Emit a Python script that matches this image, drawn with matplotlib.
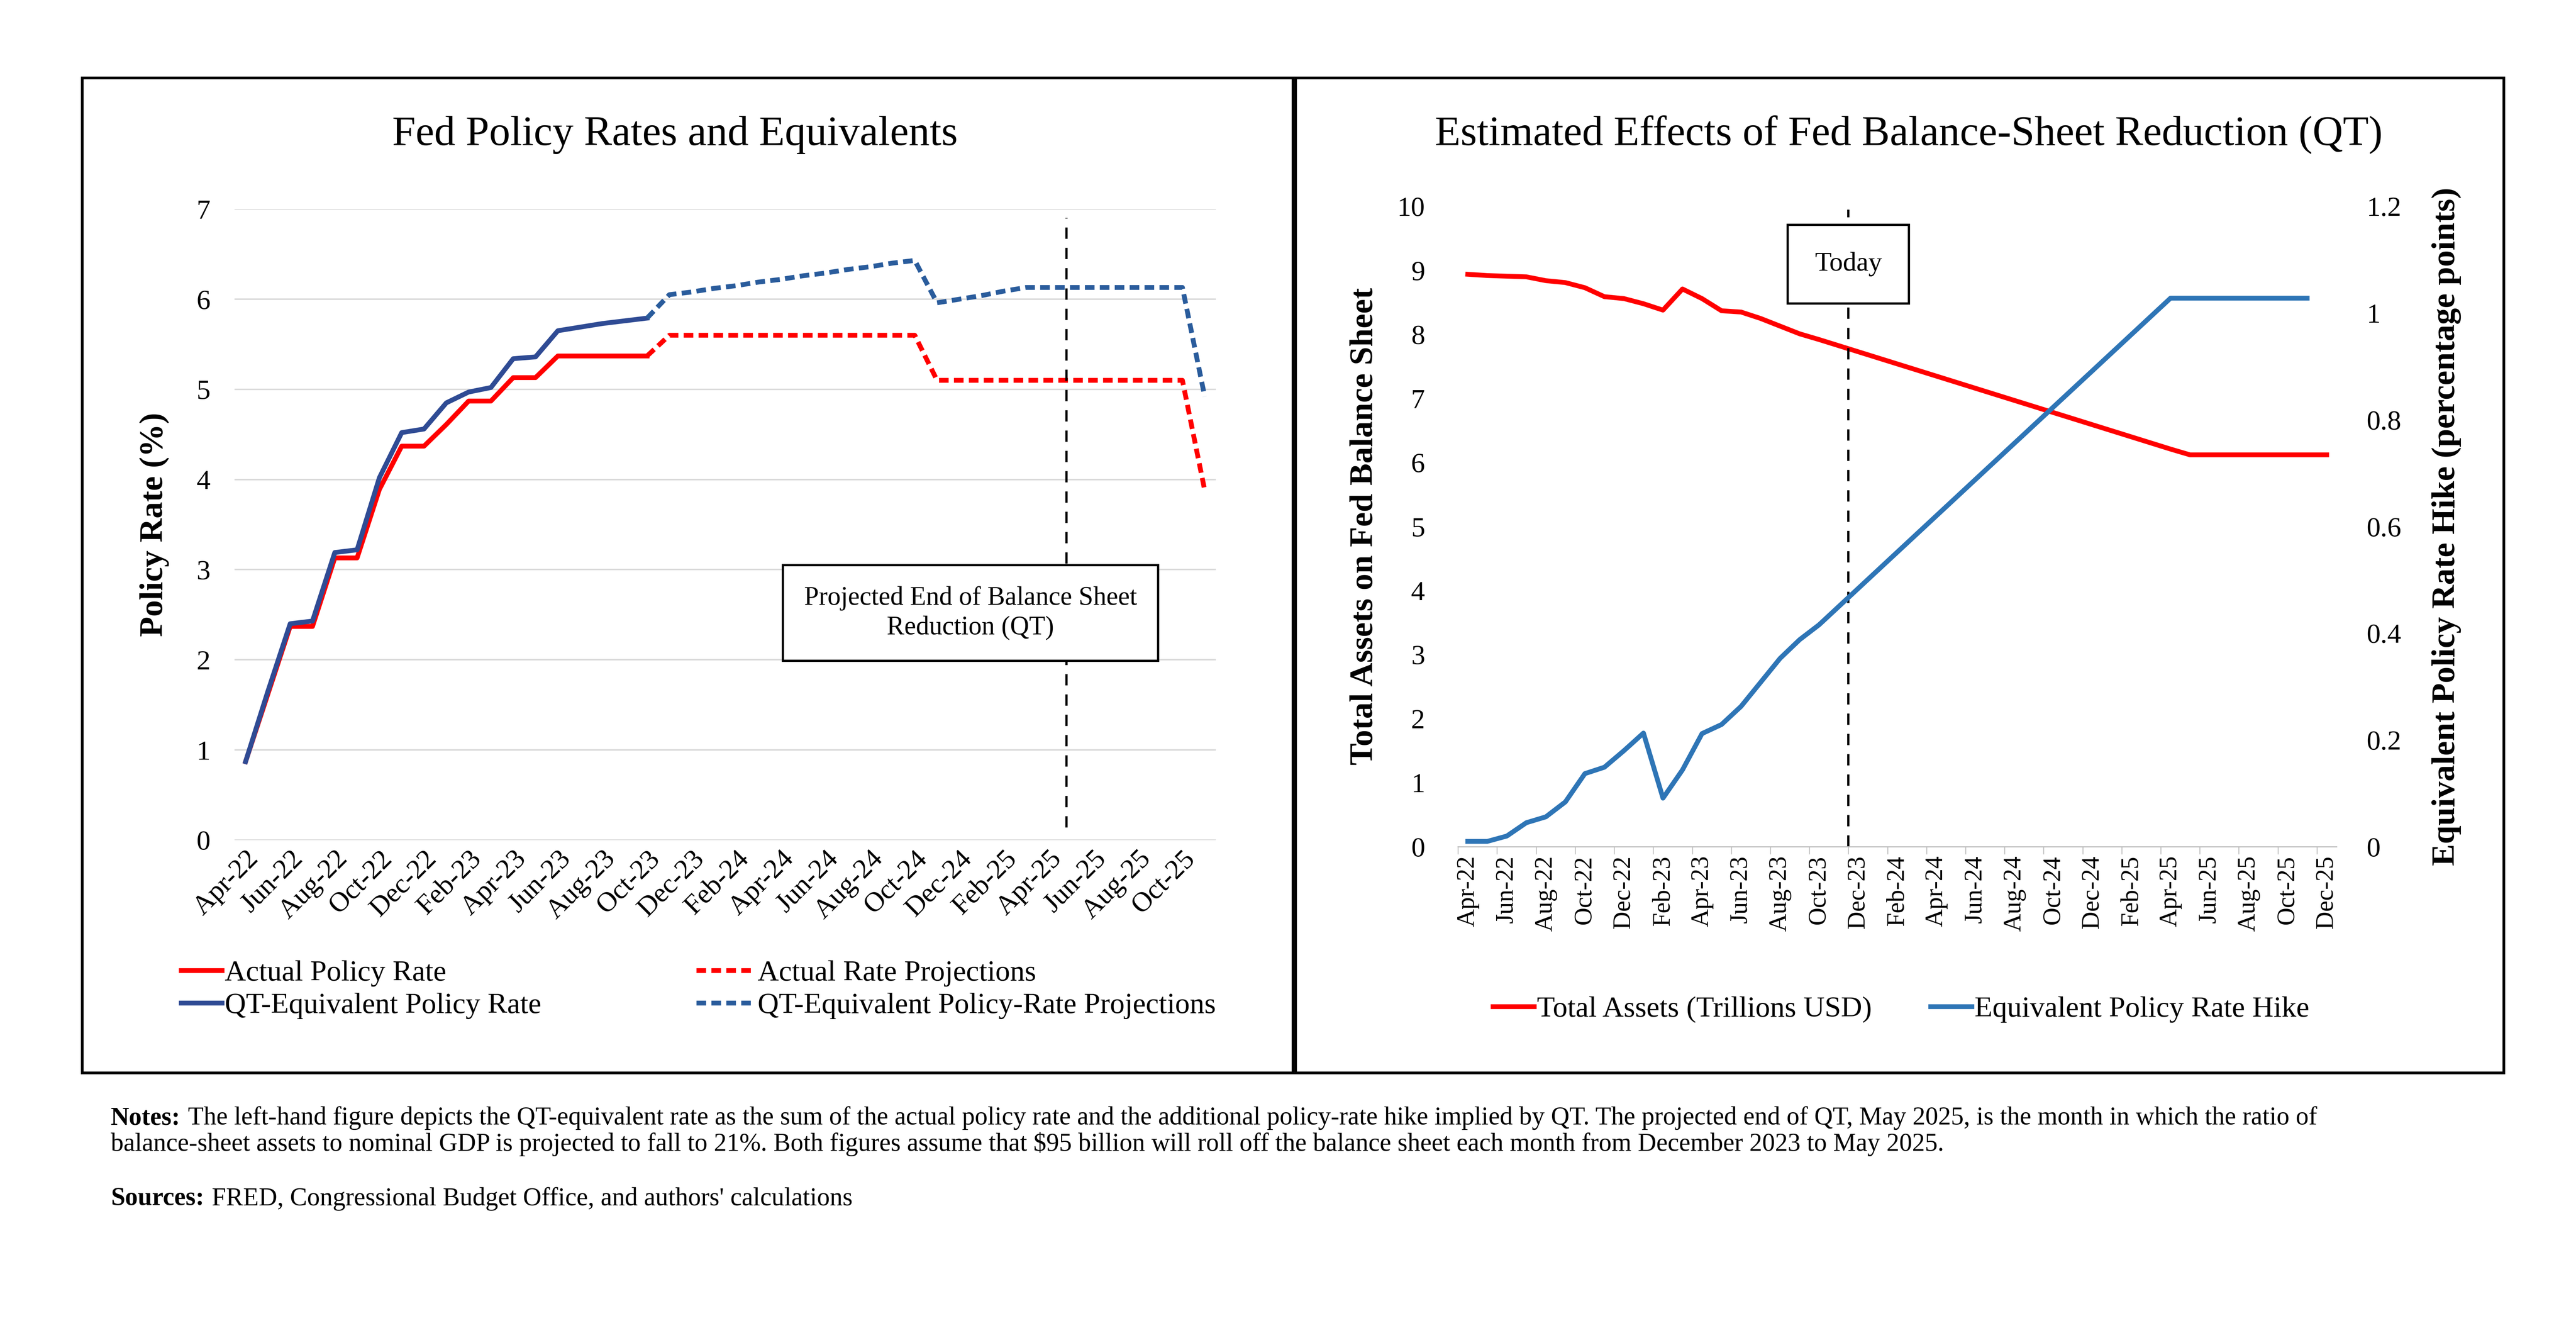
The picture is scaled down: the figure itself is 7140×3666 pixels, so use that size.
import matplotlib
matplotlib.use("Agg")
import matplotlib.pyplot as plt
from matplotlib.patches import Rectangle
from matplotlib.lines import Line2D
import numpy as np

plt.rcParams['font.family'] = ['Liberation Serif', 'DejaVu Serif']

# ---------- Left chart data (monthly Apr-22 .. Nov-25) ----------
left_labels = ["Apr-22","Jun-22","Aug-22","Oct-22","Dec-22","Feb-23","Apr-23","Jun-23","Aug-23",
               "Oct-23","Dec-23","Feb-24","Apr-24","Jun-24","Aug-24","Oct-24","Dec-24","Feb-25",
               "Apr-25","Jun-25","Aug-25","Oct-25"]
actual_rate = [0.87,1.62,2.37,2.37,3.13,3.13,3.89,4.37,4.37,4.61,4.87,4.87,5.13,5.13,5.37,5.37,5.37,5.37,5.37,
               5.60,5.60,5.60,5.60,5.60,5.60,5.60,5.60,5.60,5.60,5.60,5.60,
               5.10,5.10,5.10,5.10,5.10,5.10,5.10,5.10,5.10,5.10,5.10,5.10,3.88]
qt_rate = [0.87,1.65,2.40,2.43,3.19,3.22,4.02,4.52,4.56,4.85,4.97,5.02,5.34,5.36,5.65,5.69,5.73,5.76,5.79,
           6.05,6.08,6.12,6.15,6.19,6.22,6.26,6.29,6.33,6.36,6.40,6.43,
           5.96,6.00,6.04,6.09,6.13,6.13,6.13,6.13,6.13,6.13,6.13,6.13,4.92]
split = 18
qt_end_pos = 36.8

# ---------- Right chart data (monthly Apr-22 .. Dec-25) ----------
right_labels = ["Apr-22","Jun-22","Aug-22","Oct-22","Dec-22","Feb-23","Apr-23","Jun-23","Aug-23",
                "Oct-23","Dec-23","Feb-24","Apr-24","Jun-24","Aug-24","Oct-24","Dec-24","Feb-25",
                "Apr-25","Jun-25","Aug-25","Oct-25","Dec-25"]
total_assets = [8.94,8.92,8.91,8.90,8.84,8.81,8.73,8.59,8.56,8.48,8.38,8.71,8.56,8.37,8.35,8.25,8.13,8.01,7.92,
                7.825,7.73,7.635,7.54,7.445,7.35,7.255,7.16,7.065,6.97,6.875,6.78,6.685,6.59,6.495,6.40,6.305,6.21,
                6.12,6.12,6.12,6.12,6.12,6.12,6.12,6.12]
rate_hike = [0.01,0.01,0.02,0.045,0.056,0.084,0.137,0.149,0.18,0.213,0.091,0.144,0.212,0.229,0.263,0.308,0.353,0.388,0.416,
             0.45,0.484,0.518,0.552,0.586,0.62,0.654,0.688,0.722,0.756,0.79,0.824,0.858,0.892,0.926,0.96,0.994,1.028,
             1.028,1.028,1.028,1.028,1.028,1.028,1.028]
today_pos = 19.5

W, H = 7140, 3666
fig = plt.figure(figsize=(W/300, H/300), dpi=300)

for x0, x1 in [(0.032, 0.502), (0.503, 0.972)]:
    fig.patches.append(Rectangle((x0, 0.189), x1-x0, 0.752, transform=fig.transFigure,
                                 fill=False, edgecolor='black', linewidth=1.8))

red = '#FF0000'
dblue = '#2F4B94'
pblue = '#2A5C9C'
rblue = '#2E75B6'
LW = 3.2
DASH = (0, (2.0, 1.1))

# ---------- Left ----------
ax = fig.add_axes([0.091, 0.365, 0.381, 0.477])
n = len(actual_rate)
x = np.arange(n)
ax.plot(x[:split+1], actual_rate[:split+1], color=red, lw=LW)
ax.plot(x[split:], actual_rate[split:], color=red, lw=LW, ls=DASH)
ax.plot(x[:split+1], qt_rate[:split+1], color=dblue, lw=LW)
ax.plot(x[split:], qt_rate[split:], color=pblue, lw=LW, ls=DASH)
ax.plot([qt_end_pos, qt_end_pos], [0.14, 6.9], color='black', lw=1.5, ls=(0, (5, 4)))
ax.set_xlim(-0.5, n-0.5)
ax.set_ylim(0, 7)
ax.set_yticks(range(8))
ax.set_xticks(np.arange(0, 2*len(left_labels), 2))
ax.set_xticklabels(left_labels, rotation=45, ha='right', rotation_mode='anchor')
ax.tick_params(axis='both', length=0, labelsize=18.5)
ax.tick_params(axis='y', pad=16)
ax.tick_params(axis='x', pad=4)
ax.grid(axis='y', color='#D9D9D9', lw=1)
for s in ax.spines.values():
    s.set_visible(False)
ax.set_ylabel('Policy Rate (%)', fontsize=22, fontweight='bold', labelpad=18)
ax.text(0.75, 0.36, 'Projected End of Balance Sheet\nReduction (QT)', transform=ax.transAxes,
        ha='center', va='center', fontsize=17.5, linespacing=1.25,
        bbox=dict(boxstyle='square,pad=0.8', fc='white', ec='black', lw=1.5))
fig.text(0.262, 0.898, 'Fed Policy Rates and Equivalents', ha='center', va='center', fontsize=28)

h1 = [Line2D([], [], color=red, lw=LW), Line2D([], [], color=dblue, lw=LW)]
h2 = [Line2D([], [], color=red, lw=LW, ls=DASH), Line2D([], [], color=pblue, lw=LW, ls=DASH)]
fig.legend(h1, ['Actual Policy Rate', 'QT-Equivalent Policy Rate'], loc='center left',
           bbox_to_anchor=(0.060, 0.252), frameon=False, fontsize=19.5, handlelength=1.4,
           handletextpad=0.1, labelspacing=0.2)
fig.legend(h2, ['Actual Rate Projections', 'QT-Equivalent Policy-Rate Projections'], loc='center left',
           bbox_to_anchor=(0.260, 0.252), frameon=False, fontsize=19.5, handlelength=2.0,
           handletextpad=0.1, labelspacing=0.2)

# ---------- Right ----------
axr = fig.add_axes([0.566, 0.360, 0.341, 0.484])
axr2 = axr.twinx()
xr = np.arange(len(total_assets))
axr.plot(xr, total_assets, color=red, lw=LW)
axr2.plot(np.arange(len(rate_hike)), rate_hike, color=rblue, lw=LW)
axr.plot([today_pos, today_pos], [0, 9.95], color='black', lw=1.5, ls=(0, (5, 4)))
axr.set_xlim(-0.5, len(total_assets)-0.5)
axr.set_ylim(0, 10)
axr2.set_ylim(0, 1.2)
axr.set_yticks(range(11))
axr2.set_yticks([0, 0.2, 0.4, 0.6, 0.8, 1, 1.2])
axr2.set_yticklabels(['0', '0.2', '0.4', '0.6', '0.8', '1', '1.2'])
axr.set_xticks(np.arange(0, 2*len(right_labels), 2))
axr.set_xticklabels(right_labels, rotation=90)
axr.set_xticks(np.arange(-0.5, len(total_assets), 2), minor=True)
axr.tick_params(axis='x', which='major', length=0, labelsize=16.5, pad=6)
axr.tick_params(axis='x', which='minor', length=5, color='#BFBFBF')
axr.tick_params(axis='y', length=0, labelsize=18.5, pad=22)
axr2.tick_params(axis='y', length=0, labelsize=18.5, pad=20)
for a in (axr, axr2):
    for k, s in a.spines.items():
        s.set_visible(k == 'bottom')
axr.spines['bottom'].set_color('#BFBFBF')
axr2.spines['bottom'].set_visible(False)
axr.set_ylabel('Total Assets on Fed Balance Sheet', fontsize=22, fontweight='bold', labelpad=12)
axr2.set_ylabel('Equivalent Policy Rate Hike (percentage points)', fontsize=22, fontweight='bold',
                rotation=90, labelpad=20)
axr.text(today_pos, 9.1, 'Today', ha='center', va='center', fontsize=18,
         bbox=dict(boxstyle='square,pad=1.0', fc='white', ec='black', lw=1.5), zorder=5)
fig.text(0.741, 0.898, 'Estimated Effects of Fed Balance-Sheet Reduction (QT)', ha='center', va='center', fontsize=28)
hr = [Line2D([], [], color=red, lw=LW), Line2D([], [], color=rblue, lw=LW)]
fig.legend(hr, ['Total Assets (Trillions USD)', 'Equivalent Policy Rate Hike'], loc='center',
           bbox_to_anchor=(0.738, 0.237), ncol=2, frameon=False, fontsize=19.5, handlelength=1.4,
           handletextpad=0.1, columnspacing=2.0)

# ---------- Notes ----------
fig.canvas.draw()
r = fig.canvas.get_renderer()
def bold_then(xf, yf, b, rest):
    t = fig.text(xf, yf, b, fontsize=17, fontweight='bold', va='baseline')
    bb = t.get_window_extent(renderer=r)
    fig.text(xf + bb.width/fig.bbox.width + 0.003, yf, rest, fontsize=17, va='baseline')
bold_then(0.043, 0.150, 'Notes:', "The left-hand figure depicts the QT-equivalent rate as the sum of the actual policy rate and the additional policy-rate hike implied by QT. The projected end of QT, May 2025, is the month in which the ratio of")
fig.text(0.043, 0.130, "balance-sheet assets to nominal GDP is projected to fall to 21%. Both figures assume that $95 billion will roll off the balance sheet each month from December 2023 to May 2025.", fontsize=17, va='baseline')
bold_then(0.043, 0.089, 'Sources:', "FRED, Congressional Budget Office, and authors' calculations")

fig.savefig('out.png', dpi=300, facecolor='white')
